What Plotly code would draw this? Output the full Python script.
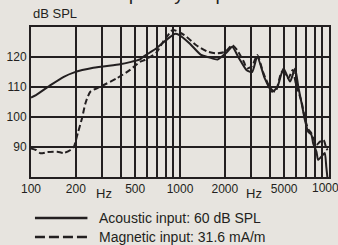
import math
import plotly.graph_objects as go

# Acoustic input (solid)
acoustic_f = [100, 108, 136, 166, 193, 262, 396, 462, 539, 567, 695, 810, 921, 990,
              1156, 1384, 1566, 1786, 2084, 2240, 2488, 2800, 3050, 3300, 3700, 4150,
              4500, 4950, 5480, 5920, 6220, 6550, 6890, 7250, 7630, 7830, 8240, 8450,
              8890, 9360, 9590, 9750]
acoustic_db = [106.5, 107.3, 110.7, 113.4, 114.8, 116.4, 117.6, 118.3, 119.2, 120.1, 122.9,
               125.7, 127.7, 127.3, 124.6, 120.7, 119.9, 119.2, 121.8, 123.4, 119.6, 115.6,
               115.0, 120.1, 113.0, 108.4, 110.0, 116.2, 111.8, 116.2, 110.1, 104.6, 99.0,
               95.1, 94.0, 91.2, 88.4, 85.7, 86.8, 88.0, 83.4, 80.0]

# Magnetic input (dashed)
magnetic_f = [100, 108, 116, 129, 150, 166, 184, 194, 206, 220, 232, 250, 292, 377, 462,
              539, 580, 695, 768, 810, 895, 1070, 1280, 1530, 1740, 2020, 2240, 2420, 2680,
              2820, 3050, 3300, 3630, 4040, 4370, 4830, 5340, 5700, 6000, 6550, 6890, 7250,
              7630, 8000, 8240, 8700, 9200, 9590, 9800]
magnetic_db = [89.5, 89.0, 87.9, 88.3, 88.4, 88.0, 89.0, 90.1, 94.6, 99.6, 104.6, 108.4,
               110.1, 112.9, 115.7, 118.4, 119.0, 121.5, 125.0, 126.5, 129.0, 127.3, 124.0,
               121.8, 121.2, 121.8, 124.0, 122.3, 118.4, 116.2, 117.0, 120.7, 114.6, 109.6,
               108.4, 115.1, 112.9, 115.7, 111.0, 105.0, 99.5, 96.0, 94.5, 92.0, 90.7, 91.8,
               92.3, 89.6, 89.0]

grid_freqs = [100, 200, 300, 400, 500, 600, 700, 800, 900, 1000, 2000, 3000, 4000,
              5000, 6000, 7000, 8000, 9000, 10000]
labeled = {100: "100", 200: "200", 500: "500", 1000: "1000", 2000: "2000",
           5000: "5000"}
edge_label = (10000, "10000")
hz_positions = [310, 3130]
y_ticks = [90, 100, 110, 120]

legend_labels = ["Acoustic input: 60 dB SPL", "Magnetic input: 31.6 mA/m"]

bg = "#e7e4df"
ink = "#231f20"

fig = go.Figure()
fig.add_trace(go.Scatter(x=acoustic_f, y=acoustic_db, mode="lines",
                         line=dict(color=ink, width=2, shape="spline", smoothing=0.6),
                         showlegend=False, name=legend_labels[0]))
fig.add_trace(go.Scatter(x=magnetic_f, y=magnetic_db, mode="lines",
                         line=dict(color=ink, width=2, dash="6px,3px", shape="spline", smoothing=0.6),
                         showlegend=False, name=legend_labels[1]))

fig.update_layout(
    width=338, height=245,
    margin=dict(l=30, r=7, t=27, b=68),
    paper_bgcolor=bg, plot_bgcolor=bg,
    font=dict(family="Liberation Sans, Arial, sans-serif", color=ink, size=12),
)
fig.update_xaxes(
    type="log", range=[2, 4],
    tickvals=grid_freqs,
    ticktext=[labeled.get(f, "") for f in grid_freqs],
    showgrid=True, gridcolor=ink, gridwidth=1.5,
    showline=True, linecolor=ink, linewidth=2, mirror=True,
    ticks="", tickfont=dict(size=12), zeroline=False,
)
fig.update_yaxes(
    range=[80, 130], tickvals=y_ticks,
    showgrid=True, gridcolor=ink, gridwidth=1.5,
    showline=True, linecolor=ink, linewidth=2, mirror=True,
    ticks="", tickfont=dict(size=12), zeroline=False,
)

# last tick label (runs past the edge, as in the original)
fig.add_annotation(x=math.log10(edge_label[0]), y=0, xref="x", yref="paper",
                   text=edge_label[1], showarrow=False, yanchor="top", yshift=-2,
                   font=dict(size=12, color=ink))

# Hz labels
for hz in hz_positions:
    fig.add_annotation(x=math.log10(hz), y=0, xref="x", yref="paper",
                       text="Hz", showarrow=False, yanchor="top", yshift=-7,
                       font=dict(size=13, color=ink))

# axis unit label
fig.add_annotation(x=0, y=1, xref="paper", yref="paper", text="dB SPL",
                   showarrow=False, xanchor="left", yanchor="bottom", yshift=4,
                   font=dict(size=13, color=ink))

# clipped title
fig.add_annotation(x=0.5, y=1, xref="paper", yref="paper", text="Frequency response",
                   showarrow=False, xanchor="center", yanchor="bottom", yshift=21,
                   font=dict(size=19, color=ink))

# legend (custom)
leg_y = [218, 237]
for i, (lbl, dash) in enumerate(zip(legend_labels, ["solid", "10px,4px"])):
    ypaper = (177 - leg_y[i]) / 150
    fig.add_shape(type="line", xref="paper", yref="paper",
                  x0=(34 - 30) / 301, x1=(87 - 30) / 301, y0=ypaper, y1=ypaper,
                  line=dict(color=ink, width=2.5, dash=dash))
    fig.add_annotation(x=(97 - 30) / 301, y=ypaper, xref="paper", yref="paper",
                       text=lbl, showarrow=False, xanchor="left", yanchor="middle",
                       font=dict(size=14, color=ink))

fig.write_html("out.html", config={"displayModeBar": False},
               post_script="document.body.style.margin='0';document.body.style.overflow='hidden';")
